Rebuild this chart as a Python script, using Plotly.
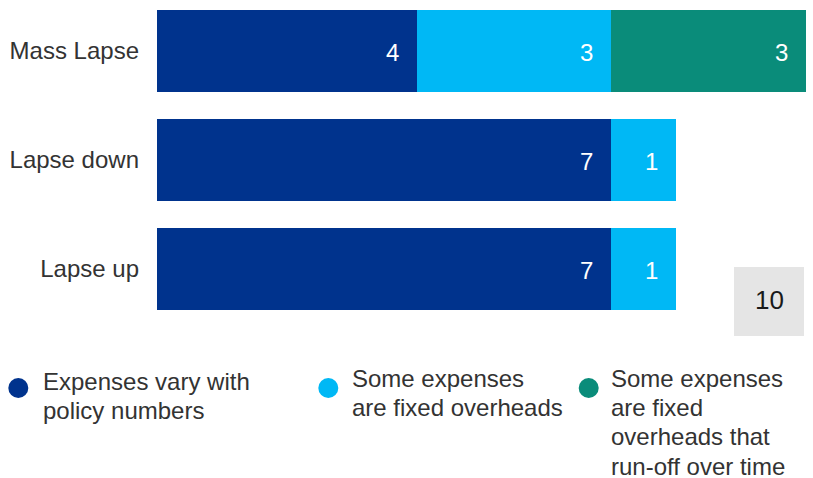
import plotly.graph_objects as go

# --- data -------------------------------------------------------------
categories = ["Mass Lapse", "Lapse down", "Lapse up"]
variable_expenses = [4, 7, 7]
fixed_overheads = [3, 1, 1]
runoff_overheads = [3, None, None]

series_names = [
    "Expenses vary with policy numbers",
    "Some expenses are fixed overheads",
    "Some expenses are fixed overheads that run-off over time",
]
legend_lines = [
    ["Expenses vary with", "policy numbers"],
    ["Some expenses", "are fixed overheads"],
    ["Some expenses", "are fixed", "overheads that", "run-off over time"],
]
total_label = "10"

# --- styling ----------------------------------------------------------
colors = ["#00338D", "#00B8F5", "#0A8C7A"]
FONT = "Liberation Sans, Arial, sans-serif"
TEXT_COLOR = "#333333"
W, H = 813, 478
M_L, M_R, M_T, M_B = 157, 7, 0, 138
PLOT_W = W - M_L - M_R
PLOT_H = H - M_T - M_B


def px_x(px):
    """Convert a page x pixel to paper coordinates."""
    return (px - M_L) / PLOT_W


def px_y(px):
    """Convert a page y pixel (from top) to paper coordinates."""
    return 1 - (px - M_T) / PLOT_H


series = [variable_expenses, fixed_overheads, runoff_overheads]

fig = go.Figure()
for name, values, color in zip(series_names, series, colors):
    fig.add_trace(
        go.Bar(
            y=categories,
            x=values,
            name=name,
            orientation="h",
            width=0.76,
            marker=dict(color=color, line=dict(width=0)),
            showlegend=False,
            hoverinfo="skip",
        )
    )

annotations = []

# value labels at the inner right end of each segment
for i, cat in enumerate(categories):
    running = 0
    for values in series:
        v = values[i]
        if v is None:
            continue
        running += v
        annotations.append(
            dict(
                x=running, y=cat, xref="x", yref="y",
                text=str(v), showarrow=False,
                xanchor="right", yanchor="middle", xshift=-16, yshift=-1,
                font=dict(family=FONT, size=24, color="white"),
            )
        )

# total box
shapes = [
    dict(
        type="rect", xref="paper", yref="paper",
        x0=px_x(734), x1=px_x(804), y0=px_y(336), y1=px_y(267),
        fillcolor="#E5E5E5", line=dict(width=0), layer="above",
    )
]
annotations.append(
    dict(
        x=px_x(769), y=px_y(300), xref="paper", yref="paper",
        text=total_label, showarrow=False,
        xanchor="center", yanchor="middle",
        font=dict(family=FONT, size=26, color="#1A1A1A"),
    )
)

# custom legend with round markers and wrapped labels
legend_dot_x = [18.3, 328.3, 588.7]
legend_text_x = [43.8, 353.3, 612.3]
legend_first_baseline = [389, 385.5, 385.5]
LINE_STEP = 29.4
for color, lines, dx, tx, b0 in zip(colors, legend_lines, legend_dot_x,
                                    legend_text_x, legend_first_baseline):
    shapes.append(
        dict(
            type="circle", xref="paper", yref="paper",
            xsizemode="pixel", ysizemode="pixel",
            xanchor=px_x(dx), yanchor=px_y(388),
            x0=-10, x1=10, y0=-10, y1=10,
            fillcolor=color, line=dict(width=0),
        )
    )
    for k, line in enumerate(lines):
        baseline = b0 + k * LINE_STEP
        annotations.append(
            dict(
                x=px_x(tx - 3), y=px_y(baseline - 7.5),
                xref="paper", yref="paper",
                text=line, showarrow=False,
                xanchor="left", yanchor="middle",
                font=dict(family=FONT, size=24, color=TEXT_COLOR),
            )
        )

fig.update_layout(
    width=W, height=H,
    margin=dict(l=M_L, r=M_R, t=M_T, b=M_B, pad=0),
    barmode="stack",
    paper_bgcolor="white",
    plot_bgcolor="white",
    font=dict(family=FONT, size=24, color=TEXT_COLOR),
    xaxis=dict(
        range=[0, 10], visible=False, fixedrange=True,
    ),
    yaxis=dict(
        type="category",
        categoryorder="array", categoryarray=categories,
        range=[2.651, -0.468],
        showgrid=False, zeroline=False, showline=False,
        ticks="", ticklabelstandoff=17,
        tickfont=dict(family=FONT, size=24, color=TEXT_COLOR),
        fixedrange=True,
    ),
    shapes=shapes,
    annotations=annotations,
    showlegend=False,
)

fig.write_html("out.html")
